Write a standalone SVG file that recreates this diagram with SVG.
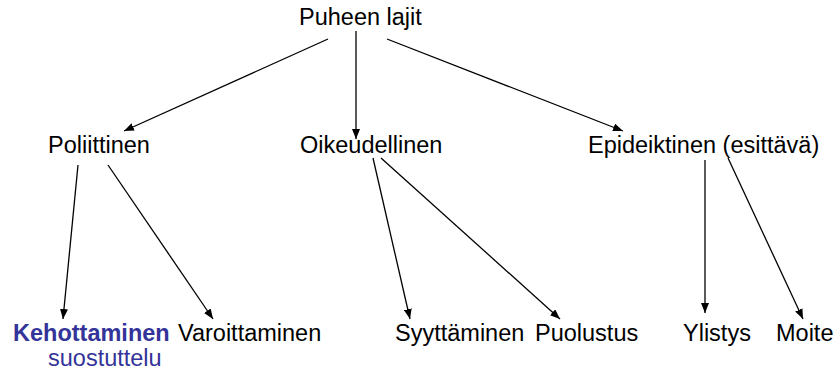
<svg xmlns="http://www.w3.org/2000/svg" width="839" height="374" viewBox="0 0 839 374">
<defs>
<marker id="ah" markerUnits="userSpaceOnUse" markerWidth="10" markerHeight="8" refX="10" refY="4" orient="auto">
<path d="M0,0 L10,4 L0,8 Z" fill="#000"/>
</marker>
<style>
text{font-family:"Liberation Sans",Arial,sans-serif;font-size:23.5px;fill:#000}
.blue{fill:#333399}
.b{font-weight:bold}
.c line{stroke:#000;stroke-width:1.3;marker-end:url(#ah)}
</style>
</defs>
<rect width="839" height="374" fill="#fff"/>
<g class="c" id="connectors">
<line x1="328" y1="39" x2="124" y2="131"/>
<line x1="356" y1="31" x2="356" y2="139"/>
<line x1="387" y1="39" x2="623" y2="131"/>
<line x1="78" y1="165" x2="63" y2="319"/>
<line x1="108" y1="165" x2="213" y2="319"/>
<line x1="373" y1="158" x2="410" y2="319"/>
<line x1="381" y1="158" x2="560" y2="319"/>
<line x1="705" y1="160" x2="705" y2="313"/>
<line x1="728" y1="158" x2="803" y2="319"/>
</g>
<g id="root"><text x="299" y="25">Puheen lajit</text></g>
<g id="poliittinen"><text x="48" y="153">Poliittinen</text></g>
<g id="oikeudellinen"><text x="300" y="153">Oikeudellinen</text></g>
<g id="epideiktinen"><text x="588" y="153">Epideiktinen (esittävä)</text></g>
<g id="kehottaminen"><text x="13" y="341" class="blue b">Kehottaminen</text><text x="48" y="366" class="blue">suostuttelu</text></g>
<g id="varoittaminen"><text x="178" y="341">Varoittaminen</text></g>
<g id="syyttaminen"><text x="395" y="341">Syyttäminen</text></g>
<g id="puolustus"><text x="535" y="341">Puolustus</text></g>
<g id="ylistys"><text x="683" y="341">Ylistys</text></g>
<g id="moite"><text x="776" y="341">Moite</text></g>
</svg>
